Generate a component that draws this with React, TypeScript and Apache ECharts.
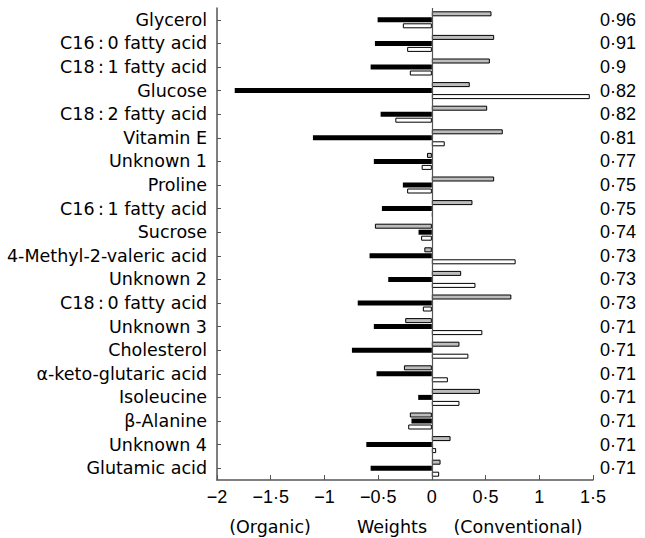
import React, { useEffect, useRef } from "react";
import * as echarts from "echarts";

const categories = [
  "Glycerol",
  "C16\u2009:\u20090 fatty acid",
  "C18\u2009:\u20091 fatty acid",
  "Glucose",
  "C18\u2009:\u20092 fatty acid",
  "Vitamin E",
  "Unknown 1",
  "Proline",
  "C16\u2009:\u20091 fatty acid",
  "Sucrose",
  "4-Methyl-2-valeric acid",
  "Unknown 2",
  "C18\u2009:\u20090 fatty acid",
  "Unknown 3",
  "Cholesterol",
  "α-keto-glutaric acid",
  "Isoleucine",
  "β-Alanine",
  "Unknown 4",
  "Glutamic acid",
];

const rightValues = [
  "0·96", "0·91", "0·9", "0·82", "0·82", "0·81", "0·77", "0·75", "0·75", "0·74",
  "0·73", "0·73", "0·73", "0·71", "0·71", "0·71", "0·71", "0·71", "0·71", "0·71",
];

const greyValues = [
  0.555, 0.58, 0.54, 0.353, 0.515, 0.66, -0.045, 0.58, 0.378, -0.53,
  -0.07, 0.273, 0.74, -0.248, 0.257, -0.26, 0.447, -0.205, 0.174, 0.081,
];

const blackValues = [
  -0.505, -0.53, -0.57, -1.835, -0.477, -1.107, -0.54, -0.27, -0.465, -0.124,
  -0.58, -0.406, -0.69, -0.54, -0.744, -0.515, -0.127, -0.19, -0.61, -0.57,
];

const whiteValues = [
  -0.27, -0.23, -0.205, 1.47, -0.34, 0.12, -0.095, -0.23, 0.01, -0.1,
  0.78, 0.406, -0.084, 0.47, 0.34, 0.149, 0.257, -0.22, 0.04, 0.068,
];

const TEXT_FONT = "'DejaVu Sans', Verdana, sans-serif";
const NUM_FONT = "'Liberation Sans', Arial, Helvetica, sans-serif";

const fmt = (v: number) => {
  const s = String(Math.abs(v)).replace(".", "·");
  return v < 0 ? "−" + s : s;
};

export default function App() {
  const ref = useRef<HTMLDivElement>(null);
  useEffect(() => {
    document.body.style.margin = "0";
    if (!ref.current) return;
    const chart = echarts.init(ref.current, undefined, { renderer: "svg" });
    const barCommon = {
      type: "bar" as const,
      barWidth: 5,
      barGap: "20%",
      yAxisIndex: 0,
    };
    chart.setOption({
      animation: false,
      grid: { left: 217, right: 52, top: 8, bottom: 58, containLabel: false },
      xAxis: {
        type: "value",
        min: -2,
        max: 1.5,
        interval: 0.5,
        splitLine: { show: false },
        axisLine: { show: true, onZero: false, lineStyle: { color: "#555", width: 1.5 } },
        axisTick: { show: true, inside: true, length: 5, lineStyle: { color: "#555" } },
        axisLabel: {
          formatter: fmt,
          color: "#000",
          fontSize: 18,
          fontFamily: NUM_FONT,
          margin: 8,
        },
      },
      yAxis: [
        {
          type: "category",
          data: categories,
          inverse: true,
          axisLine: { show: true, onZero: false, lineStyle: { color: "#555", width: 1.5 } },
          axisTick: { show: true, inside: true, length: 4, alignWithLabel: true, lineStyle: { color: "#555" } },
          axisLabel: { color: "#000", fontSize: 17.5, fontFamily: TEXT_FONT, margin: 10 },
        },
        {
          type: "category",
          data: rightValues,
          inverse: true,
          position: "right",
          axisLine: { show: false },
          axisTick: { show: false },
          axisLabel: { color: "#000", fontSize: 18, fontFamily: NUM_FONT, margin: 7, align: "left" },
        },
      ],
      series: [
        {
          ...barCommon,
          name: "grey",
          data: greyValues,
          itemStyle: { color: "#bdbdbd", borderColor: "#000", borderWidth: 1 },
          markLine: {
            silent: true,
            symbol: "none",
            label: { show: false },
            lineStyle: { color: "#555", width: 1.2, type: "solid" },
            data: [{ xAxis: 0 }],
          },
        },
        {
          ...barCommon,
          name: "black",
          data: blackValues,
          itemStyle: { color: "#000" },
        },
        {
          ...barCommon,
          name: "white",
          data: whiteValues,
          itemStyle: { color: "#fff", borderColor: "#000", borderWidth: 1 },
        },
      ],
      graphic: [
        {
          type: "text",
          x: 270,
          y: 527,
          style: { text: "(Organic)", font: `17.5px ${TEXT_FONT}`, fill: "#000", align: "center", verticalAlign: "middle" },
        },
        {
          type: "text",
          x: 392,
          y: 527,
          style: { text: "Weights", font: `17.5px ${TEXT_FONT}`, fill: "#000", align: "center", verticalAlign: "middle" },
        },
        {
          type: "text",
          x: 518,
          y: 527,
          style: { text: "(Conventional)", font: `17.5px ${TEXT_FONT}`, fill: "#000", align: "center", verticalAlign: "middle" },
        },
      ],
    });
    return () => chart.dispose();
  }, []);
  return <div ref={ref} style={{ width: 645, height: 538 }} />;
}
